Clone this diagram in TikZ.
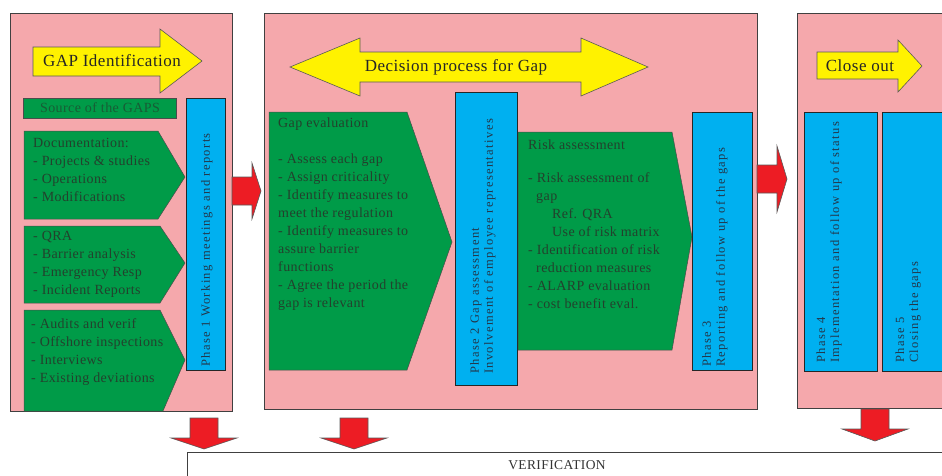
\documentclass[tikz,border=0pt]{standalone}
\usepackage{fontspec}
\setmainfont{Liberation Serif}[LetterSpace=3]
\newfontfamily\phasefont{Liberation Serif}[LetterSpace=11]
\usetikzlibrary{calc}

\definecolor{panelpink}{RGB}{245,168,172}
\definecolor{gapgreen}{RGB}{0,155,72}
\definecolor{phaseblue}{RGB}{0,176,240}
\definecolor{bannery}{RGB}{255,242,0}
\definecolor{flowred}{RGB}{237,28,36}
\definecolor{inkgreen}{RGB}{35,65,45}
\definecolor{inkblue}{RGB}{35,55,75}

% block arrow to the right: (start x : neck x : tip x : centre y : head half height)
\def\flowright(#1:#2:#3:#4:#5){\draw[flow] (#1,#4-14) -- (#2,#4-14) -- (#2,#4-#5) -- (#3,#4) -- (#2,#4+#5) -- (#2,#4+14) -- (#1,#4+14) -- cycle;}
% block arrow down: (centre x : top y : neck y : tip y : head half width)
\def\flowdown(#1:#2:#3:#4:#5){\draw[flow] (#1-14,#2) -- (#1+14,#2) -- (#1+14,#3) -- (#1+#5,#3) -- (#1,#4) -- (#1-#5,#3) -- (#1-14,#3) -- cycle;}

\begin{document}
\begin{tikzpicture}[x=1pt, y=-1pt,
		panel/.style={fill=panelpink, draw=black!75, line width=0.9pt},
		greenshape/.style={fill=gapgreen, draw=black!70, line width=0.5pt},
		phasebox/.style={fill=phaseblue, draw=black!85, line width=0.8pt},
		banner/.style={fill=bannery, draw=black!65, line width=0.6pt},
		flow/.style={fill=flowred, draw=black!65, line width=0.6pt},
		listtext/.style={inner sep=0pt, align=left, anchor=north west, text=inkgreen, font=\fontsize{14}{18}\selectfont},
		phasetext/.style={inner sep=0pt, align=left, anchor=west, rotate=90, text=inkblue, font=\phasefont\fontsize{12.5}{14}\selectfont},
		bannertext/.style={inner sep=0pt, text=black!85, font=\fontsize{17}{19}\selectfont}]
			%%%%% START %%%%%
			\useasboundingbox (0,0) rectangle (942,475);
			\clip (0,0) rectangle (942,475);
			
			%% panels
			\draw[panel] (10,13) rectangle (232,411);
			\draw[panel] (264,13) rectangle (757,409);
			\draw[panel] (797,13) rectangle (960,408);
			
			%% phase 1 : identification
			\draw[banner] (33,47) -- (160,47) -- (160,29) -- (202,61) -- (160,93) -- (160,76) -- (33,76) -- cycle;
			\node[bannertext] (gapid) at (112,61) {GAP Identification};
			
			\draw[greenshape] (23,98) rectangle (176,118);
			\node[inner sep=0pt, text=inkgreen!70!gapgreen, font=\fontsize{14}{16}\selectfont] (source) at (100,108) {Source of the GAPS};
			
			\draw[greenshape] (24,131) -- (158,131) -- (185,177) -- (158,219) -- (24,219) -- cycle;
			\node[listtext] (docs) at (33,138) {Documentation:\\- Projects \& studies\\- Operations\\- Modifications};
			
			\draw[greenshape] (24,226) -- (160,226) -- (185,263) -- (160,303) -- (24,303) -- cycle;
			\node[listtext] (qra) at (33,231) {- QRA\\- Barrier analysis\\- Emergency Resp\\- Incident Reports};
			
			\draw[greenshape] (24,310) -- (160,310) -- (185,360) -- (163,411) -- (24,411) -- cycle;
			\node[listtext] (audits) at (31,318) {- Audits and verif\\- Offshore inspections\\- Interviews\\- Existing deviations};
			
			\draw[phasebox] (186,98) rectangle (225,370);
			\node[phasetext] (phaseone) at (207,367) {Phase 1 Working meetings and reports};
			
			%% phase 2 and 3 : decision
			\draw[banner] (290,67) -- (360,38) -- (360,52) -- (581,52) -- (581,38) -- (648,67) -- (581,96) -- (581,82) -- (360,82) -- (360,96) -- cycle;
			\node[bannertext] (decision) at (456,67) {Decision process for Gap};
			
			\draw[greenshape] (269,112) -- (407,112) -- (452,242) -- (407,370) -- (269,370) -- cycle;
			\node[listtext] (gapeval) at (278,118) {Gap evaluation\\[18pt]- Assess each gap\\- Assign criticality\\- Identify measures to\\meet the regulation\\- Identify measures to\\assure barrier\\functions\\- Agree the period the\\gap is relevant};
			
			\draw[phasebox] (455,92) rectangle (517,385);
			\node[phasetext] (phasetwo) at (483,374) {Phase 2 Gap assessment\\Involvement of employee representatives};
			
			\draw[greenshape] (518,132) -- (672,132) -- (692,237) -- (672,350) -- (518,350) -- cycle;
			\node[listtext] (riskass) at (528,140) {Risk assessment\\[15pt]- Risk assessment of\\\hspace*{8pt}gap\\\hspace*{24pt}Ref. QRA\\\hspace*{24pt}Use of risk matrix\\- Identification of risk\\\hspace*{8pt}reduction measures\\- ALARP evaluation\\- cost benefit eval.};
			
			\draw[phasebox] (692,112) rectangle (752,370);
			\node[phasetext] (phasethree) at (715,367) {Phase 3\\Reporting and follow up of the gaps};
			
			%% phase 4 and 5 : close out
			\draw[banner] (817,52) -- (898,52) -- (898,40) -- (922,66) -- (898,92) -- (898,79) -- (817,79) -- cycle;
			\node[bannertext] (closeout) at (860,66) {Close out};
			
			\draw[phasebox] (804,112) rectangle (877,371);
			\node[phasetext] (phasefour) at (829,363) {Phase 4\\Implementation and follow up of status};
			\draw[phasebox] (882,112) rectangle (960,371);
			\node[phasetext] (phasefive) at (908,363) {Phase 5\\Closing the gaps};
			
			%% flow between the panels
			\flowright(232:252:261:191:28);
			\flowright(757:777:787:179:33);
			
			%% verification
			\flowdown(204:418:438:449:33);
			\flowdown(354:418:438:449:33);
			\flowdown(875:409:429:441:33);
			
			\draw[draw=black!75, line width=0.9pt, fill=white] (187,452) rectangle (960,490);
			\node[inner sep=0pt, text=black!80, font=\fontsize{13.5}{15}\selectfont] (verif) at (557,465) {VERIFICATION};
			
			%%%%% END %%%%%
		\end{tikzpicture}
\end{document}
